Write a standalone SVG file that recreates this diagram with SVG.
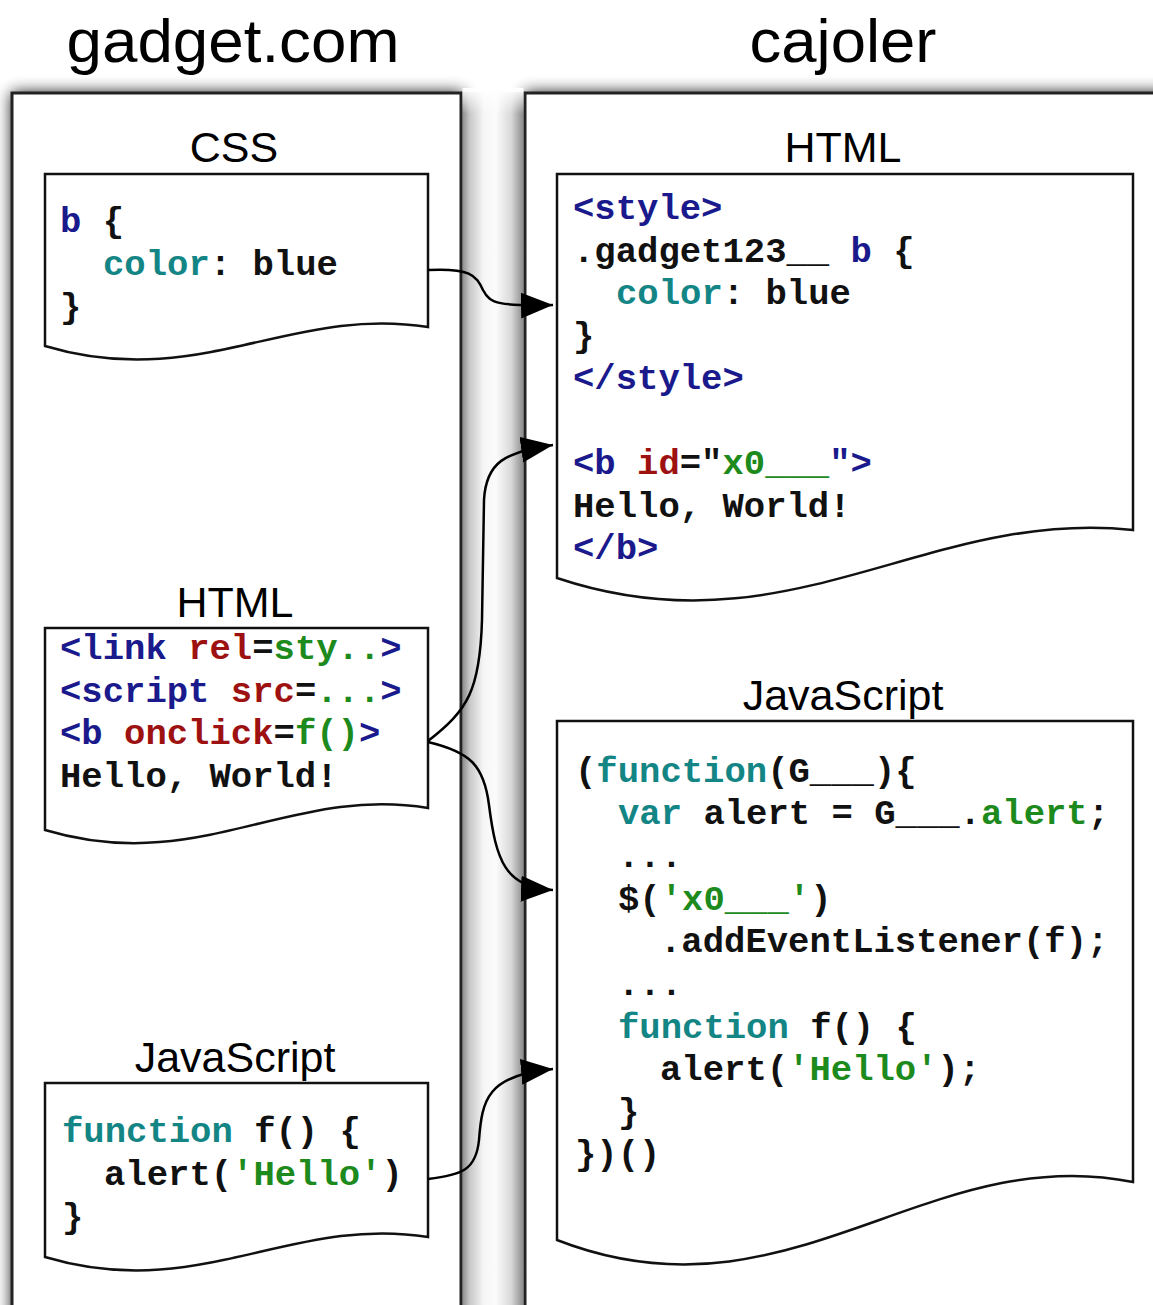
<svg xmlns="http://www.w3.org/2000/svg" width="1153" height="1305" viewBox="0 0 1153 1305">
<style>
.title{font-family:"Liberation Sans",Arial,sans-serif;font-size:62px;fill:#000;text-anchor:middle}
.sub{font-family:"Liberation Sans",Arial,sans-serif;font-size:43px;fill:#000;text-anchor:middle}
.code{font-family:"Liberation Mono","Courier New",monospace;font-size:35.6px;font-weight:bold;fill:#111}
.panel{fill:#fff;stroke:#222;stroke-width:3}
.doc{fill:#fff;stroke:#111;stroke-width:2.5;stroke-linejoin:miter}
.conn{fill:none;stroke:#000;stroke-width:2.5}
.n{fill:#1a1a8c}
.r{fill:#9e1111}
.g{fill:#1c8a1c}
.t{fill:#138585}
</style>
<defs>
<filter id="sh" x="-10%" y="-10%" width="120%" height="120%">
<feGaussianBlur in="SourceAlpha" stdDeviation="8"/>
<feOffset dx="1" dy="1" result="b"/>
<feComponentTransfer><feFuncA type="linear" slope="0.95"/></feComponentTransfer>
<feMerge><feMergeNode/><feMergeNode in="SourceGraphic"/></feMerge>
</filter>
<linearGradient id="gap" x1="0" y1="0" x2="1" y2="0">
<stop offset="0" stop-color="#8c8c8c"/>
<stop offset="0.12" stop-color="#c8c8c8"/>
<stop offset="0.35" stop-color="#f6f6f6"/>
<stop offset="0.55" stop-color="#fbfbfb"/>
<stop offset="0.8" stop-color="#d8d8d8"/>
<stop offset="1" stop-color="#8a8a8a"/>
</linearGradient>
<linearGradient id="gapfade" x1="0" y1="0" x2="0" y2="1">
<stop offset="0" stop-color="#fff" stop-opacity="1"/>
<stop offset="1" stop-color="#fff" stop-opacity="0"/>
</linearGradient>
<marker id="arr" markerUnits="userSpaceOnUse" markerWidth="34" markerHeight="28" refX="32" refY="13" orient="auto">
<path d="M0,0 L32,13 L0,26 z" fill="#000"/>
</marker>
</defs>

<g id="titles">
<text class="title" x="233" y="62" textLength="333" lengthAdjust="spacingAndGlyphs">gadget.com</text>
<text class="title" x="843" y="62" textLength="187" lengthAdjust="spacingAndGlyphs">cajoler</text>
</g>

<g id="panel-gadget">
<rect class="panel" x="12" y="93" width="449" height="1240" filter="url(#sh)"/>
</g>
<g id="panel-cajoler">
<rect class="panel" x="525" y="93" width="660" height="1240" filter="url(#sh)"/>
</g>
<g id="gap-shadow">
<rect x="462.5" y="92" width="61" height="1213" fill="url(#gap)"/>
<rect x="462.5" y="88" width="61" height="26" fill="url(#gapfade)"/>
</g>

<g id="gadget-css">
<text class="sub" x="234" y="162">CSS</text>
<path class="doc" d="M45,174 H428 V327 C290,305 198,392 45,346 Z"/>
<text class="code" x="60" y="232"><tspan class="n">b</tspan> {</text>
<text class="code" x="103" y="275"><tspan class="t">color</tspan>: blue</text>
<text class="code" x="60" y="318">}</text>
</g>

<g id="gadget-html">
<text class="sub" x="235" y="617">HTML</text>
<path class="doc" d="M45,628 H428 V808 C290,785 198,876 45,830 Z"/>
<text class="code" x="60" y="659"><tspan class="n">&lt;link</tspan> <tspan class="r">rel</tspan>=<tspan class="g">sty..</tspan><tspan class="n">&gt;</tspan></text>
<text class="code" x="60" y="702"><tspan class="n">&lt;script</tspan> <tspan class="r">src</tspan>=<tspan class="g">...</tspan><tspan class="n">&gt;</tspan></text>
<text class="code" x="60" y="744"><tspan class="n">&lt;b</tspan> <tspan class="r">onclick</tspan>=<tspan class="g">f()</tspan><tspan class="n">&gt;</tspan></text>
<text class="code" x="60" y="787">Hello, World!</text>
</g>

<g id="gadget-js">
<text class="sub" x="235" y="1072">JavaScript</text>
<path class="doc" d="M45,1083 H428 V1237 C290,1215 198,1303 45,1257 Z"/>
<text class="code" x="62" y="1142"><tspan class="t">function</tspan> f() {</text>
<text class="code" x="104" y="1185">alert(<tspan class="g">'Hello'</tspan>)</text>
<text class="code" x="62" y="1228">}</text>
</g>

<g id="cajoler-html">
<text class="sub" x="843" y="162">HTML</text>
<path class="doc" d="M557,174 H1133 V530 C926,508 787,655 557,578 Z"/>
<text class="code" x="573" y="219"><tspan class="n">&lt;style&gt;</tspan></text>
<text class="code" x="573" y="262">.gadget123__ <tspan class="n">b</tspan> {</text>
<text class="code" x="616" y="304"><tspan class="t">color</tspan>: blue</text>
<text class="code" x="573" y="347">}</text>
<text class="code" x="573" y="389"><tspan class="n">&lt;/style&gt;</tspan></text>
<text class="code" x="573" y="474"><tspan class="n">&lt;b</tspan> <tspan class="r">id</tspan>="<tspan class="g">x0___</tspan><tspan class="n">"&gt;</tspan></text>
<text class="code" x="573" y="517">Hello, World!</text>
<text class="code" x="573" y="559"><tspan class="n">&lt;/b&gt;</tspan></text>
</g>

<g id="cajoler-js">
<text class="sub" x="843" y="710">JavaScript</text>
<path class="doc" d="M557,721 H1133 V1182 C926,1140 787,1330 557,1240 Z"/>
<text class="code" x="575" y="782">(<tspan class="t">function</tspan>(G___){</text>
<text class="code" x="618" y="824"><tspan class="t">var</tspan> alert = G___.<tspan class="g">alert</tspan>;</text>
<text class="code" x="618" y="867">...</text>
<text class="code" x="618" y="910">$(<tspan class="g">'x0___'</tspan>)</text>
<text class="code" x="660" y="952">.addEventListener(f);</text>
<text class="code" x="618" y="995">...</text>
<text class="code" x="618" y="1038"><tspan class="t">function</tspan> f() {</text>
<text class="code" x="660" y="1080">alert(<tspan class="g">'Hello'</tspan>);</text>
<text class="code" x="618" y="1123">}</text>
<text class="code" x="575" y="1165">})()</text>
</g>

<g id="connectors">
<path class="conn" marker-end="url(#arr)" d="M428,270 C470,268 476,275 483,290 C490,304 500,306 553,305"/>
<path class="conn" marker-end="url(#arr)" d="M428,741 C468,710 480,690 482,620 L484,500 C486,462 505,452 553,445"/>
<path class="conn" marker-end="url(#arr)" d="M428,742 C470,752 484,765 489,805 C496,860 505,888 553,890"/>
<path class="conn" marker-end="url(#arr)" d="M428,1179 C462,1175 476,1170 479,1140 C482,1100 487,1075 553,1069"/>
</g>
</svg>
